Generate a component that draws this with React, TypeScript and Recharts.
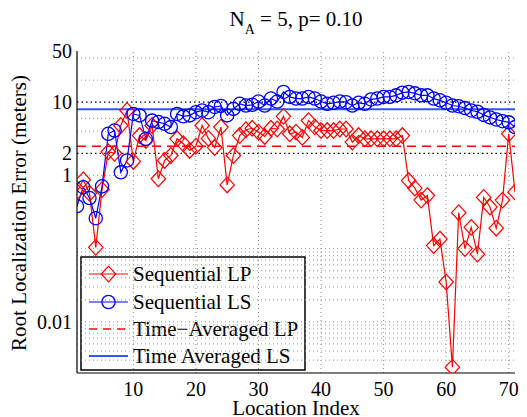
import React from 'react';
import { LineChart, Line, XAxis, YAxis, ReferenceLine, Customized } from 'recharts';

const locations = [
  1, 2, 3, 4, 5, 6, 7, 8, 9, 10, 11, 12, 13, 14, 15, 16, 17, 18, 19, 20,
  21, 22, 23, 24, 25, 26, 27, 28, 29, 30, 31, 32, 33, 34, 35, 36, 37, 38, 39, 40,
  41, 42, 43, 44, 45, 46, 47, 48, 49, 50, 51, 52, 53, 54, 55, 56, 57, 58, 59, 60,
  61, 62, 63, 64, 65, 66, 67, 68, 69, 70, 71,
];

const sequentialLP = [
  0.6, 0.87, 0.57, 0.104, 0.64, 2.1, 2.0, 4.8, 7.7, 1.55,
  3.5, 3.0, 4.8, 0.9, 1.6, 1.87, 3.16, 2.7, 2.19, 2.5,
  4.8, 3.2, 2.4, 4.57, 0.74, 1.87, 3.5, 4.2, 4.4, 3.9,
  3.4, 4.4, 4.3, 6.4, 3.7, 3.9, 3.3, 5.6, 4.6, 4.1,
  4.1, 4.1, 4.3, 4.3, 2.85, 3.5, 3.16, 3.16, 3.16, 3.16,
  3.16, 3.16, 3.5, 0.85, 0.67, 0.46, 0.53, 0.11, 0.135, 0.035,
  0.0024, 0.31, 0.1, 0.195, 0.084, 0.5, 0.37, 0.19, 0.46, 3.7,
  0.59,
];

const sequentialLS = [
  0.38, 0.69, 0.49, 0.26, 0.71, 3.7, 4.1, 1.1, 1.6, 6.9,
  6.6, 3.16, 5.6, 5.35, 5.07, 4.57, 6.9, 6.4, 6.6, 7.3,
  7.7, 7.3, 8.6, 8.9, 6.6, 8.1, 9.5, 9.0, 9.2, 10.2,
  9.0, 11.2, 10.2, 13.8, 11.8, 11.2, 11.2, 11.8, 11.2, 10.2,
  9.5, 9.8, 10.2, 10.0, 9.0, 9.8, 9.5, 10.9, 11.2, 11.8,
  11.8, 12.4, 13.5, 13.8, 13.2, 12.4, 12.4, 11.2, 10.6, 9.8,
  9.0, 8.8, 8.3, 7.7, 7.4, 6.7, 6.2, 5.8, 5.5, 5.3,
  4.57,
];

const timeAveragedLP = 2.5;
const timeAveragedLS = 8.0;

const xTicks = [10, 20, 30, 40, 50, 60, 70];
const yTicks = [0.01, 1, 2, 10, 50];
const majorGridY = [10, 2];
const minorGridY = [
  40, 20, 8, 6, 4, 1, 0.1, 0.09, 0.08, 0.07, 0.06, 0.05, 0.04, 0.03, 0.02,
  0.01, 0.009, 0.008, 0.007, 0.006, 0.005, 0.004, 0.003,
];

const title = { main: 'N', sub: 'A', rest: ' = 5, p= 0.10' };
const xLabel = 'Location Index';
const yLabel = 'Root Localization Error (meters)';
const legendNames = ['Sequential LP', 'Sequential LS', 'Time\u2212Averaged LP', 'Time Averaged LS'];

const RED = '#ff0000';
const BLUE = '#0000ff';
const AVG_BLUE = '#3355ff';
const FONT = '"Liberation Serif", "DejaVu Serif", serif';

const data = locations.map((loc, i) => ({ loc, lp: sequentialLP[i], ls: sequentialLS[i] }));

const Diamond = (props: any) => {
  const { cx, cy } = props;
  if (cx == null || cy == null) return null;
  const w = 7.2;
  const h = 7.8;
  return (
    <path
      d={`M${cx},${cy - h}L${cx + w},${cy}L${cx},${cy + h}L${cx - w},${cy}Z`}
      fill="none"
      stroke={RED}
      strokeWidth={1.2}
    />
  );
};

const Circle = (props: any) => {
  const { cx, cy } = props;
  if (cx == null || cy == null) return null;
  return <circle cx={cx} cy={cy} r={6.6} fill="none" stroke={BLUE} strokeWidth={1.3} />;
};

const TickText = (props: any) => {
  const { x, y, payload, textAnchor, dy } = props;
  return (
    <text
      x={x}
      y={y}
      dy={dy}
      textAnchor={textAnchor}
      fontSize={20}
      fill="#000"
      style={{ fontFamily: FONT }}
    >
      {String(payload.value)}
    </text>
  );
};

const XTick = (props: any) => <TickText {...props} textAnchor="middle" dy="0.71em" />;
const YTick = (props: any) => <TickText {...props} textAnchor="end" dy="0.355em" />;

const Annotations = () => {
  const rows = [274, 302, 329, 356];
  return (
    <g style={{ fontFamily: FONT }}>
      <text x={296} y={26} textAnchor="middle" fontSize={21} fill="#000">
        <tspan>{title.main}</tspan>
        <tspan dy={8} fontSize={14}>{title.sub}</tspan>
        <tspan dy={-8}>{title.rest}</tspan>
      </text>
      <text x={296} y={415} textAnchor="middle" fontSize={21} fill="#000">{xLabel}</text>
      <text x={26} y={213} textAnchor="middle" fontSize={21} fill="#000" transform="rotate(-90 26 213)">
        {yLabel}
      </text>
      <rect x={81} y={257} width={224} height={113} fill="#fff" stroke="#000" strokeWidth={1.5} />
      <line x1={89} x2={128} y1={rows[0]} y2={rows[0]} stroke={RED} strokeWidth={1.2} />
      <Diamond cx={108.5} cy={rows[0]} />
      <line x1={89} x2={128} y1={rows[1]} y2={rows[1]} stroke={BLUE} strokeWidth={1.2} />
      <Circle cx={108.5} cy={rows[1]} />
      <line x1={89} x2={128} y1={rows[2]} y2={rows[2]} stroke={RED} strokeWidth={1.5} strokeDasharray="8 6" />
      <line x1={89} x2={128} y1={rows[3]} y2={rows[3]} stroke={AVG_BLUE} strokeWidth={1.8} />
      {legendNames.map((n, i) => (
        <text key={n} x={133} y={rows[i] + 7} fontSize={21} fill="#000">{n}</text>
      ))}
    </g>
  );
};

export default function App() {
  return (
    <div style={{ position: 'absolute', left: 0, top: 0, width: 527, height: 417, background: '#fff', fontFamily: FONT }}>
      <LineChart width={527} height={417} data={data} margin={{ top: 51, right: 12, left: 8, bottom: 14 }} style={{ fontFamily: FONT }}>
        <XAxis
          dataKey="loc"
          type="number"
          domain={[1, 71]}
          ticks={xTicks}
          interval={0}
          allowDataOverflow
          height={30}
          tickLine={false}
          tickSize={6}
          tickMargin={3}
          axisLine={{ stroke: '#000', strokeWidth: 1.2 }}
          tick={<XTick />}
        />
        <XAxis
          xAxisId="top"
          orientation="top"
          type="number"
          domain={[1, 71]}
          allowDataOverflow
          height={0}
          tick={false}
          tickLine={false}
          axisLine={{ stroke: '#000', strokeWidth: 1.2 }}
        />
        <YAxis
          type="number"
          scale="log"
          domain={[0.002, 50]}
          ticks={yTicks}
          interval={0}
          allowDataOverflow
          width={69}
          tickLine={false}
          tickSize={3}
          tickMargin={2}
          axisLine={{ stroke: '#000', strokeWidth: 1.2 }}
          tick={<YTick />}
        />
        <YAxis
          yAxisId="right"
          orientation="right"
          type="number"
          scale="log"
          domain={[0.002, 50]}
          allowDataOverflow
          width={0}
          tick={false}
          tickLine={false}
          axisLine={{ stroke: '#000', strokeWidth: 1.2 }}
        />
        {xTicks.map((t) => (
          <ReferenceLine key={`vx${t}`} x={t} stroke="#8a8a8a" strokeDasharray="1 3" strokeWidth={1} />
        ))}
        {minorGridY.map((v) => (
          <ReferenceLine key={`mg${v}`} y={v} stroke="#9a9a9a" strokeDasharray="1 3" strokeWidth={1} />
        ))}
        {majorGridY.map((v) => (
          <ReferenceLine key={`Mg${v}`} y={v} stroke="#000" strokeDasharray="1.5 3" strokeWidth={1.3} />
        ))}
        <ReferenceLine y={timeAveragedLP} stroke={RED} strokeWidth={1.5} strokeDasharray="9 6" />
        <ReferenceLine y={timeAveragedLS} stroke={AVG_BLUE} strokeWidth={1.8} />
        <Line
          dataKey="lp"
          stroke={RED}
          strokeWidth={1.2}
          dot={<Diamond />}
          activeDot={false}
          isAnimationActive={false}
        />
        <Line
          dataKey="ls"
          stroke={BLUE}
          strokeWidth={1.2}
          dot={<Circle />}
          activeDot={false}
          isAnimationActive={false}
        />
        <Customized component={Annotations} />
      </LineChart>
    </div>
  );
}
